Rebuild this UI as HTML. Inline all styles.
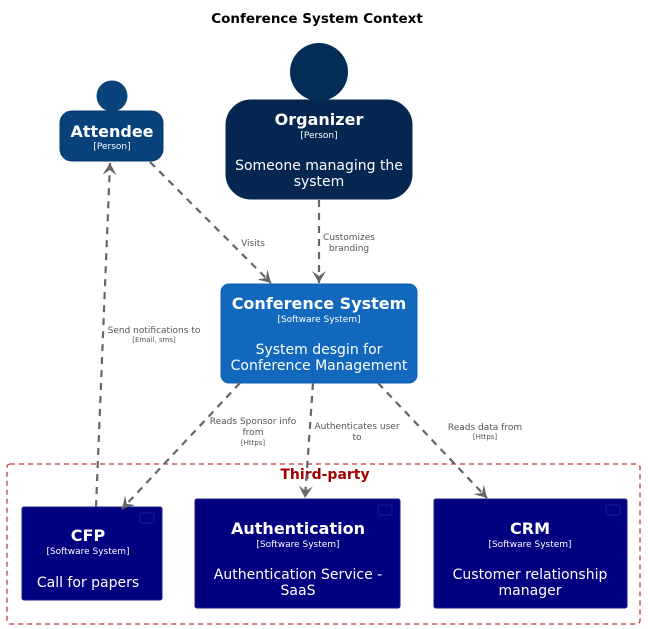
<!DOCTYPE html>
<html><head><meta charset="utf-8"><style>
html,body{margin:0;padding:0;background:#fff}
svg{display:block}
text{font-family:"DejaVu Sans","Liberation Sans",sans-serif}
</style></head><body>
<svg width="648" height="629" viewBox="0 0 648 629" xmlns="http://www.w3.org/2000/svg">
<defs>
<marker id="a" markerWidth="16" markerHeight="16" refX="12" refY="7" orient="auto" markerUnits="userSpaceOnUse">
<path d="M0,0 L12,7 L0,14 L5,7 Z" fill="#666"/>
</marker>
</defs>
<text x="317" y="23" font-size="13.5" font-weight="bold" text-anchor="middle" fill="#000">Conference System Context</text>

<circle cx="112" cy="96" r="15.5" fill="#08427b"/>
<rect x="60" y="111" width="103" height="50" rx="12" fill="#08427b" stroke="#073b6f"/>
<text x="112" y="137" font-size="16" font-weight="bold" fill="#fff" text-anchor="middle">Attendee</text>
<text x="112" y="149" font-size="9" fill="#fff" text-anchor="middle">[Person]</text>

<circle cx="319" cy="72" r="29" fill="#052e56"/>
<rect x="226" y="100" width="186" height="99" rx="25" fill="#052650" stroke="#04264a"/>
<text x="319" y="125" font-size="16" font-weight="bold" fill="#fff" text-anchor="middle">Organizer</text>
<text x="319" y="138" font-size="9" fill="#fff" text-anchor="middle">[Person]</text>
<text x="319" y="170" font-size="14" fill="#fff" text-anchor="middle">Someone managing the</text>
<text x="319" y="186" font-size="14" fill="#fff" text-anchor="middle">system</text>

<rect x="221" y="284" width="196" height="99" rx="8" fill="#1168bd" stroke="#0f5eaa"/>
<text x="319" y="309" font-size="16" font-weight="bold" fill="#fff" text-anchor="middle">Conference System</text>
<text x="319" y="322" font-size="9" fill="#fff" text-anchor="middle">[Software System]</text>
<text x="319" y="354" font-size="14" fill="#fff" text-anchor="middle">System desgin for</text>
<text x="319" y="370" font-size="14" fill="#fff" text-anchor="middle">Conference Management</text>

<rect x="7" y="464" width="633" height="160" rx="3" fill="none" stroke="#b30000" stroke-dasharray="5,4"/>
<text x="325" y="479" font-size="14" font-weight="bold" fill="#a00000" text-anchor="middle">Third-party</text>

<rect x="22" y="507" width="140" height="93" rx="2" fill="#000080" stroke="#1a1a8c"/>
<rect x="140" y="513" width="14" height="10" rx="2" fill="none" stroke="#1a1aa0"/>
<text x="88" y="541" font-size="16" font-weight="bold" fill="#fff" text-anchor="middle">CFP</text>
<text x="88" y="554" font-size="9" fill="#fff" text-anchor="middle">[Software System]</text>
<text x="88" y="587" font-size="14" fill="#fff" text-anchor="middle">Call for papers</text>

<rect x="195" y="499" width="205" height="109" rx="2" fill="#000080" stroke="#1a1a8c"/>
<rect x="378" y="505" width="14" height="10" rx="2" fill="none" stroke="#1a1aa0"/>
<text x="298" y="534" font-size="16" font-weight="bold" fill="#fff" text-anchor="middle">Authentication</text>
<text x="298" y="547" font-size="9" fill="#fff" text-anchor="middle">[Software System]</text>
<text x="298" y="579" font-size="14" fill="#fff" text-anchor="middle">Authentication Service -</text>
<text x="298" y="595" font-size="14" fill="#fff" text-anchor="middle">SaaS</text>

<rect x="434" y="499" width="193" height="109" rx="2" fill="#000080" stroke="#1a1a8c"/>
<rect x="606" y="505" width="14" height="10" rx="2" fill="none" stroke="#1a1aa0"/>
<text x="530" y="534" font-size="16" font-weight="bold" fill="#fff" text-anchor="middle">CRM</text>
<text x="530" y="547" font-size="9" fill="#fff" text-anchor="middle">[Software System]</text>
<text x="530" y="579" font-size="14" fill="#fff" text-anchor="middle">Customer relationship</text>
<text x="530" y="595" font-size="14" fill="#fff" text-anchor="middle">manager</text>

<g stroke="#666" stroke-width="2.2" stroke-dasharray="7,6" fill="none">
<line x1="150" y1="162" x2="271" y2="283" marker-end="url(#a)"/>
<line x1="319" y1="200" x2="319" y2="283" marker-end="url(#a)"/>
<line x1="240" y1="383" x2="122" y2="509" marker-end="url(#a)"/>
<line x1="313" y1="383" x2="305" y2="498" marker-end="url(#a)"/>
<line x1="378" y1="383" x2="487" y2="498" marker-end="url(#a)"/>
<line x1="96" y1="507" x2="110" y2="163" marker-end="url(#a)"/>
</g>

<g font-size="9" fill="#555" text-anchor="middle">
<text x="253" y="246">Visits</text>
<text x="349" y="240">Customizes</text>
<text x="349" y="251">branding</text>
<text x="154" y="333">Send notifications to</text>
<text x="154" y="342" font-size="7">[Email, sms]</text>
<text x="253" y="424">Reads Sponsor info</text>
<text x="253" y="435">from</text>
<text x="253" y="445" font-size="7">[Https]</text>
<text x="357" y="429">Authenticates user</text>
<text x="357" y="440">to</text>
<text x="485" y="430">Reads data from</text>
<text x="485" y="439" font-size="7">[Https]</text>
</g>
</svg>
</body></html>
